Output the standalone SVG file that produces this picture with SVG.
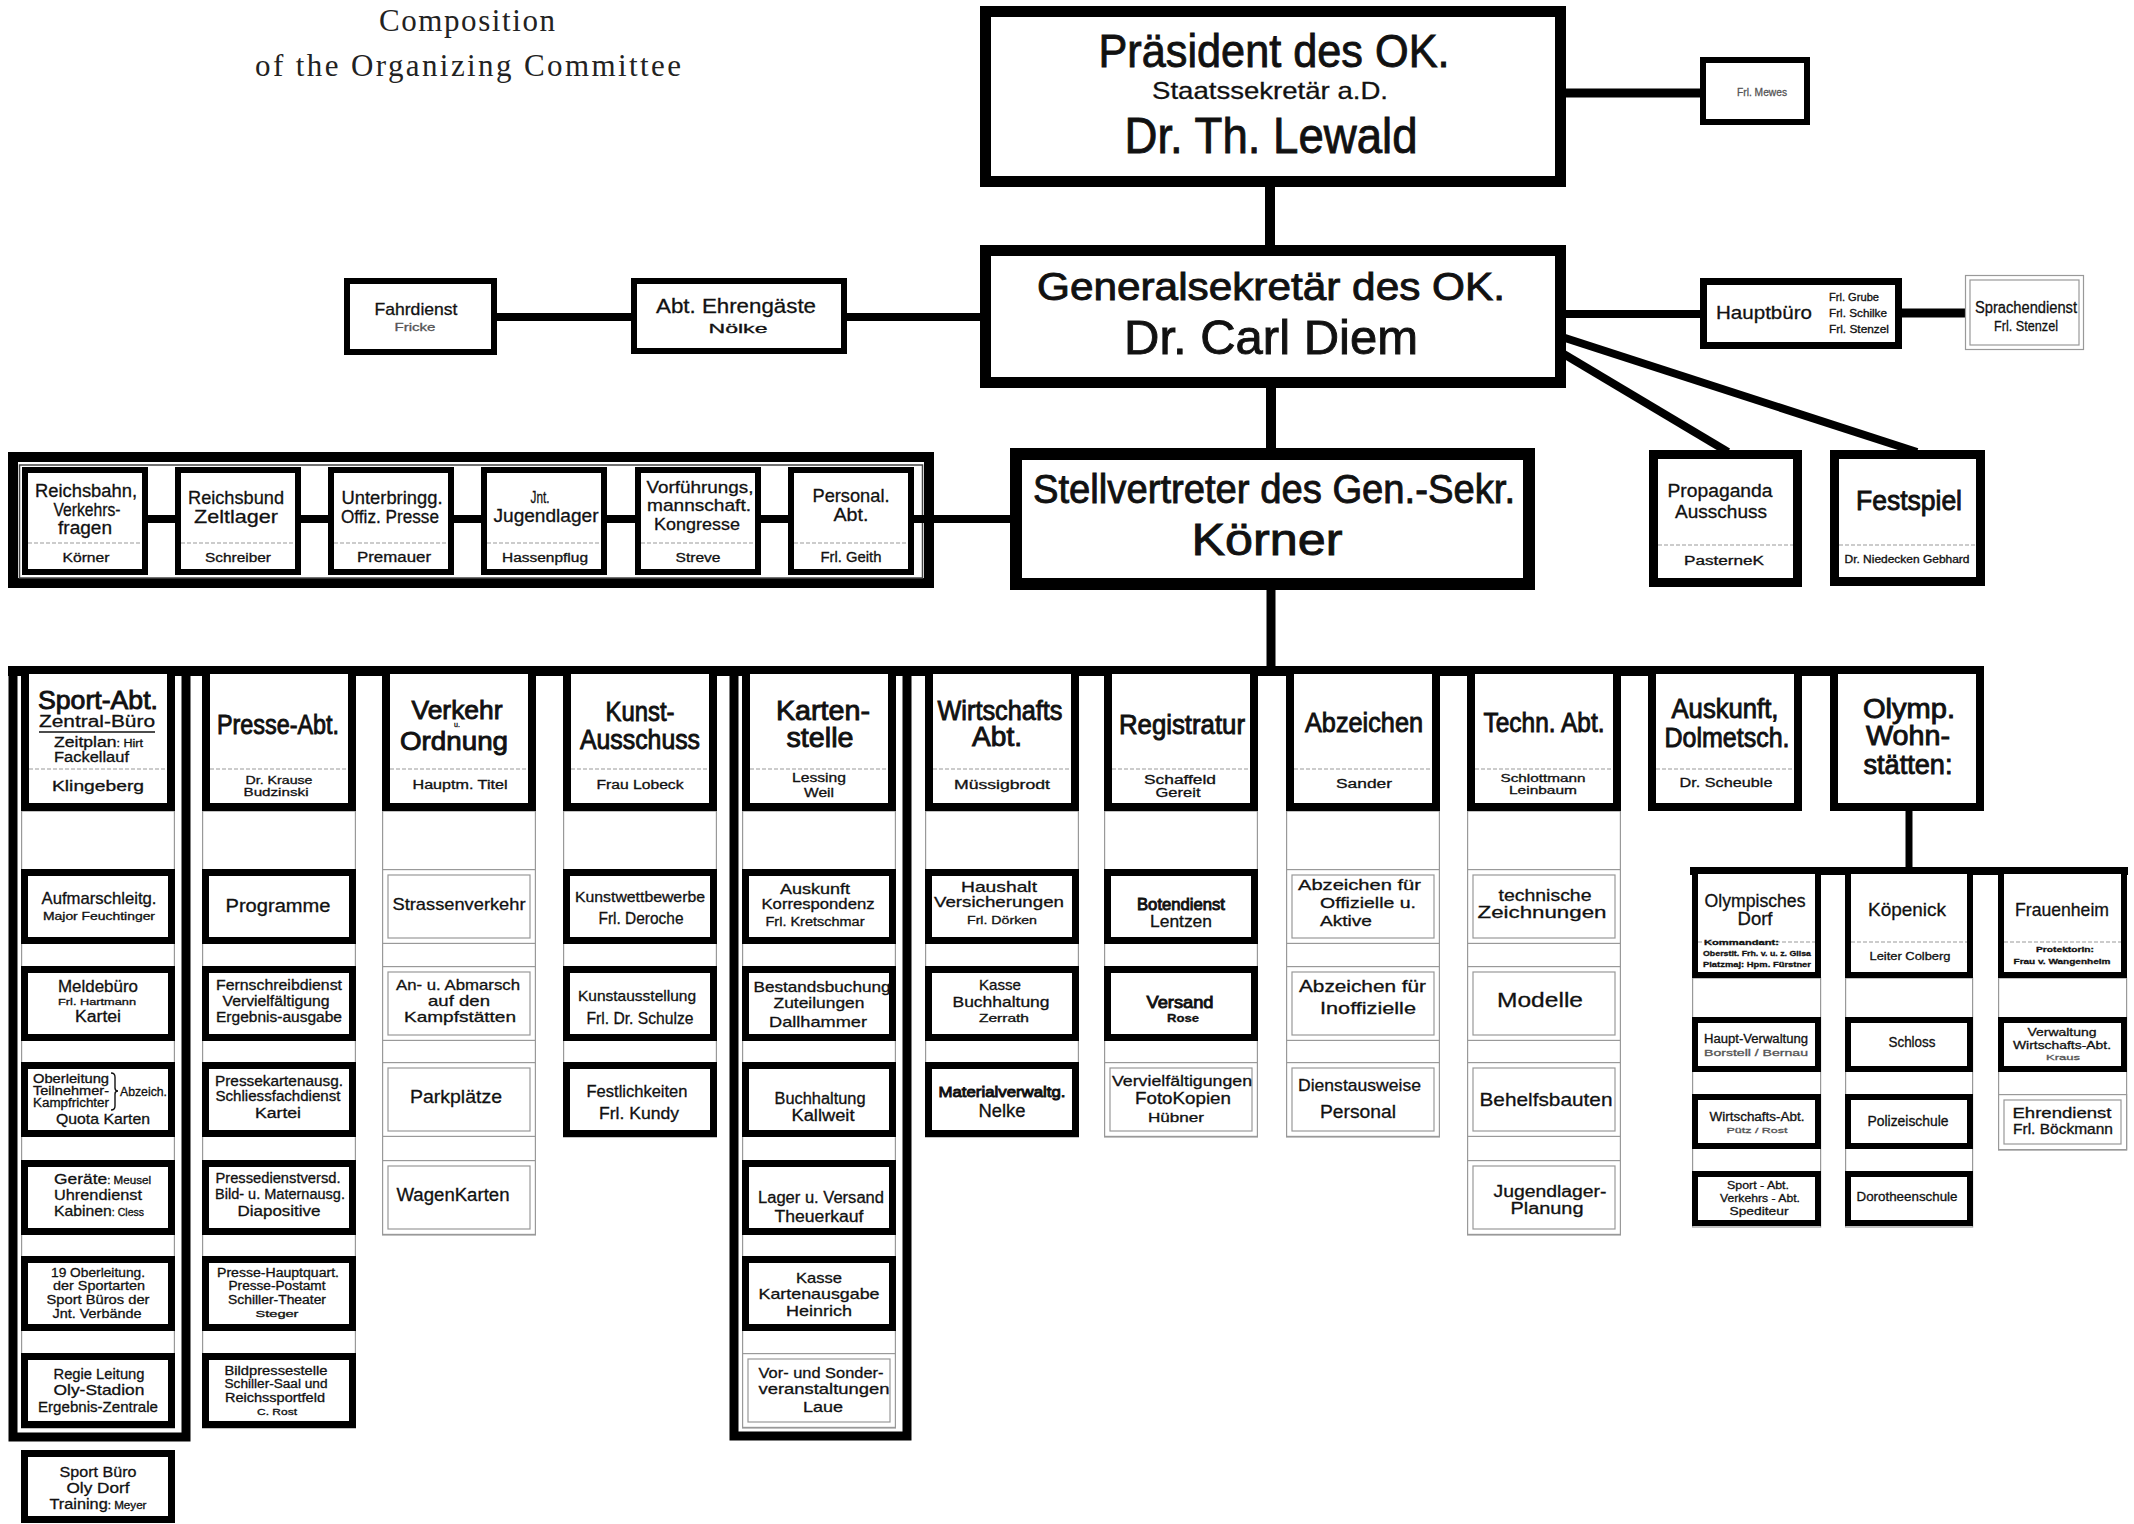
<svg xmlns="http://www.w3.org/2000/svg" width="2134" height="1524" viewBox="0 0 2134 1524">
<style>
.s{font-family:"Liberation Sans Narrow","Liberation Sans",Arial,sans-serif;text-anchor:middle;fill:#111;stroke:#111;stroke-width:0.3}
.b{stroke-width:0.9}
.a{text-anchor:start}
.g{fill:#555;stroke:#555}
.sr{font-family:"Liberation Serif","Times New Roman",serif;text-anchor:middle;fill:#222}
.bx{fill:#fff;stroke:#000}
.hd{fill:#fff;stroke:#000;stroke-width:8}
.rb{fill:#fff;stroke:#000;stroke-width:7}
.ob{fill:#fff;stroke:#000;stroke-width:6}
.th{fill:#fff;stroke:#999;stroke-width:1.2}
.ti{fill:none;stroke:#999;stroke-width:1.2}
.st{fill:none;stroke:#999;stroke-width:1.2}
.sp{stroke:#999;stroke-width:1.2;stroke-dasharray:4 2}
.cn{stroke:#000;fill:none}
.fr{stroke:#000;fill:none;stroke-width:9}
</style>
<rect width="2134" height="1524" fill="#fff"/>

<g id="title">
<text class="sr" x="467" y="31" font-size="31" textLength="176" lengthAdjust="spacing">Composition</text>
<text class="sr" x="468" y="76" font-size="31" textLength="426" lengthAdjust="spacing">of the Organizing Committee</text>
</g>

<g id="connectors">
<line class="cn" x1="1566" y1="93" x2="1700" y2="93" stroke-width="9"/>
<line class="cn" x1="1270" y1="187" x2="1270" y2="245" stroke-width="10"/>
<line class="cn" x1="497" y1="317" x2="631" y2="317" stroke-width="8"/>
<line class="cn" x1="847" y1="317" x2="980" y2="317" stroke-width="8"/>
<line class="cn" x1="1566" y1="314" x2="1700" y2="314" stroke-width="8"/>
<line class="cn" x1="1902" y1="313" x2="1965" y2="313" stroke-width="9"/>
<line class="cn" x1="1562" y1="353" x2="1728" y2="452" stroke-width="8"/>
<line class="cn" x1="1562" y1="337" x2="1917" y2="452" stroke-width="8"/>
<line class="cn" x1="1271" y1="388" x2="1271" y2="448" stroke-width="10"/>
<line class="cn" x1="1271" y1="590" x2="1271" y2="668" stroke-width="9"/>
<line class="cn" x1="914" y1="519" x2="1010" y2="519" stroke-width="8"/>
<rect x="8" y="666" width="1976" height="10" fill="#000"/>
<line class="cn" x1="1909" y1="811" x2="1909" y2="868" stroke-width="7"/>
<rect x="1690" y="867" width="438" height="8" fill="#000"/>
</g>

<g id="praesident">
<rect class="bx" x="985.5" y="11.5" width="575" height="170" stroke-width="11"/>
<text class="s b" x="1274" y="67" font-size="47" textLength="351" lengthAdjust="spacingAndGlyphs">Präsident des OK.</text>
<text class="s" x="1270" y="99" font-size="24" textLength="236" lengthAdjust="spacingAndGlyphs">Staatssekretär a.D.</text>
<text class="s b" x="1271" y="153" font-size="50" textLength="293" lengthAdjust="spacingAndGlyphs">Dr. Th. Lewald</text>
</g>
<g id="mewes">
<rect class="bx" x="1703" y="60" width="104" height="62" stroke-width="6"/>
<text class="s g" x="1762" y="96" font-size="11" textLength="50" lengthAdjust="spacingAndGlyphs">Frl. Mewes</text>
</g>

<g id="generalsekretaer">
<rect class="bx" x="985.5" y="250.5" width="575" height="132" stroke-width="11"/>
<text class="s b" x="1271" y="300" font-size="38" textLength="468" lengthAdjust="spacingAndGlyphs">Generalsekretär des OK.</text>
<text class="s b" x="1271" y="354" font-size="48" textLength="294" lengthAdjust="spacingAndGlyphs">Dr. Carl Diem</text>
</g>
<g id="fahrdienst">
<rect class="bx" x="347" y="281" width="147" height="71" stroke-width="6"/>
<text class="s" x="416" y="315" font-size="17" textLength="83" lengthAdjust="spacingAndGlyphs">Fahrdienst</text>
<text class="s g" x="415" y="331" font-size="11" textLength="41" lengthAdjust="spacingAndGlyphs">Fricke</text>
</g>
<g id="ehrengaeste">
<rect class="bx" x="634" y="281" width="210" height="70" stroke-width="6"/>
<text class="s" x="736" y="313" font-size="21" textLength="160" lengthAdjust="spacingAndGlyphs">Abt. Ehrengäste</text>
<text class="s" x="738" y="333" font-size="13" textLength="59" lengthAdjust="spacingAndGlyphs">Nölke</text>
</g>
<g id="hauptbuero">
<rect class="bx" x="1703.5" y="281.5" width="195" height="64" stroke-width="7"/>
<text class="s" x="1764" y="319" font-size="19" textLength="96" lengthAdjust="spacingAndGlyphs">Hauptbüro</text>
<text class="s a" x="1829" y="301" font-size="10" textLength="50" lengthAdjust="spacingAndGlyphs">Frl. Grube</text>
<text class="s a" x="1829" y="317" font-size="10" textLength="58" lengthAdjust="spacingAndGlyphs">Frl. Schilke</text>
<text class="s a" x="1829" y="333" font-size="10" textLength="60" lengthAdjust="spacingAndGlyphs">Frl. Stenzel</text>
</g>
<g id="sprachendienst">
<rect class="th" x="1965.5" y="275.5" width="118" height="74"/>
<rect class="ti" x="1970" y="280" width="109" height="65"/>
<text class="s" x="2026" y="313" font-size="16" textLength="102" lengthAdjust="spacingAndGlyphs">Sprachendienst</text>
<text class="s" x="2026" y="331" font-size="15" textLength="64" lengthAdjust="spacingAndGlyphs">Frl. Stenzel</text>
</g>

<g id="stellvertreter">
<rect class="bx" x="1016" y="454" width="513" height="130" stroke-width="12"/>
<text class="s b" x="1274" y="503" font-size="40" textLength="482" lengthAdjust="spacingAndGlyphs">Stellvertreter des Gen.-Sekr.</text>
<text class="s b" x="1267" y="555" font-size="44" textLength="151" lengthAdjust="spacingAndGlyphs">Körner</text>
</g>
<g id="propaganda">
<rect class="bx" x="1653.5" y="454.5" width="144" height="128" stroke-width="9"/>
<line class="sp" x1="1658" y1="545" x2="1793" y2="545"/>
<text class="s" x="1720" y="497" font-size="18" textLength="105" lengthAdjust="spacingAndGlyphs">Propaganda</text>
<text class="s" x="1721" y="518" font-size="18" textLength="92" lengthAdjust="spacingAndGlyphs">Ausschuss</text>
<text class="s" x="1724" y="565" font-size="12" textLength="80" lengthAdjust="spacingAndGlyphs">PasterneK</text>
</g>
<g id="festspiel">
<rect class="bx" x="1834.5" y="454.5" width="146" height="127" stroke-width="9"/>
<line class="sp" x1="1839" y1="545" x2="1976" y2="545"/>
<text class="s b" x="1909" y="510" font-size="28" textLength="106" lengthAdjust="spacingAndGlyphs">Festspiel</text>
<text class="s" x="1907" y="563" font-size="10" textLength="125" lengthAdjust="spacingAndGlyphs">Dr. Niedecken Gebhard</text>
</g>

<g id="stab">
<rect class="bx" x="13" y="457" width="916" height="126" stroke-width="10"/>
<rect fill="none" stroke="#444" stroke-width="1.5" x="19.5" y="465" width="903" height="113"/>
<line class="cn" x1="148" y1="519" x2="175" y2="519" stroke-width="8"/>
<line class="cn" x1="301" y1="519" x2="328" y2="519" stroke-width="8"/>
<line class="cn" x1="454" y1="519" x2="481" y2="519" stroke-width="8"/>
<line class="cn" x1="607" y1="519" x2="635" y2="519" stroke-width="8"/>
<line class="cn" x1="761" y1="519" x2="788" y2="519" stroke-width="8"/>
<line class="cn" x1="914" y1="519" x2="934" y2="519" stroke-width="8"/>
<g id="reichsbahn">
<rect class="ob" x="25" y="470" width="120" height="102"/>
<line class="sp" x1="28" y1="543" x2="142" y2="543"/>
<text class="s" x="86" y="497" font-size="18" textLength="102" lengthAdjust="spacingAndGlyphs">Reichsbahn,</text>
<text class="s" x="87" y="516" font-size="18" textLength="67" lengthAdjust="spacingAndGlyphs">Verkehrs-</text>
<text class="s" x="85" y="534" font-size="18" textLength="54" lengthAdjust="spacingAndGlyphs">fragen</text>
<text class="s" x="86" y="562" font-size="13" textLength="47" lengthAdjust="spacingAndGlyphs">Körner</text>
</g>
<g id="reichsbund">
<rect class="ob" x="178" y="470" width="120" height="102"/>
<line class="sp" x1="181" y1="543" x2="295" y2="543"/>
<text class="s" x="236" y="504" font-size="19" textLength="96" lengthAdjust="spacingAndGlyphs">Reichsbund</text>
<text class="s" x="236" y="523" font-size="19" textLength="84" lengthAdjust="spacingAndGlyphs">Zeltlager</text>
<text class="s" x="238" y="562" font-size="13" textLength="66" lengthAdjust="spacingAndGlyphs">Schreiber</text>
</g>
<g id="unterbringung">
<rect class="ob" x="331" y="470" width="120" height="102"/>
<line class="sp" x1="334" y1="543" x2="448" y2="543"/>
<text class="s" x="392" y="504" font-size="18" textLength="101" lengthAdjust="spacingAndGlyphs">Unterbringg.</text>
<text class="s" x="390" y="523" font-size="18" textLength="98" lengthAdjust="spacingAndGlyphs">Offiz. Presse</text>
<text class="s" x="394" y="562" font-size="14" textLength="74" lengthAdjust="spacingAndGlyphs">Premauer</text>
</g>
<g id="jugendlager">
<rect class="ob" x="484" y="470" width="120" height="102"/>
<line class="sp" x1="487" y1="543" x2="601" y2="543"/>
<text class="s" x="540" y="503" font-size="17" textLength="19" lengthAdjust="spacingAndGlyphs">Jnt.</text>
<text class="s" x="546" y="522" font-size="18" textLength="105" lengthAdjust="spacingAndGlyphs">Jugendlager</text>
<text class="s" x="545" y="562" font-size="12" textLength="86" lengthAdjust="spacingAndGlyphs">Hassenpflug</text>
</g>
<g id="vorfuehrung">
<rect class="ob" x="638" y="470" width="120" height="102"/>
<line class="sp" x1="641" y1="543" x2="755" y2="543"/>
<text class="s" x="700" y="493" font-size="17" textLength="107" lengthAdjust="spacingAndGlyphs">Vorführungs,</text>
<text class="s" x="699" y="511" font-size="17" textLength="104" lengthAdjust="spacingAndGlyphs">mannschaft.</text>
<text class="s" x="697" y="530" font-size="17" textLength="86" lengthAdjust="spacingAndGlyphs">Kongresse</text>
<text class="s" x="698" y="562" font-size="13" textLength="45" lengthAdjust="spacingAndGlyphs">Streve</text>
</g>
<g id="personal">
<rect class="ob" x="791" y="470" width="120" height="102"/>
<line class="sp" x1="794" y1="543" x2="908" y2="543"/>
<text class="s" x="851" y="502" font-size="19" textLength="77" lengthAdjust="spacingAndGlyphs">Personal.</text>
<text class="s" x="851" y="521" font-size="19" textLength="35" lengthAdjust="spacingAndGlyphs">Abt.</text>
<text class="s" x="851" y="562" font-size="14" textLength="61" lengthAdjust="spacingAndGlyphs">Frl. Geith</text>
</g>
</g>

<g id="sport">
<rect class="st" x="21.6" y="811" width="152.8" height="617"/>
<path class="fr" d="M13 671 V1437 H186 V671"/>
<rect class="hd" x="25" y="670" width="146" height="137"/>
<line class="sp" x1="29" y1="769" x2="167" y2="769"/>
<text class="s b" x="98" y="709" font-size="26" textLength="120" lengthAdjust="spacingAndGlyphs">Sport-Abt.</text>
<text class="s" x="97" y="727" font-size="16" textLength="116" lengthAdjust="spacingAndGlyphs">Zentral-Büro</text>
<line x1="39" y1="732" x2="155" y2="732" stroke="#111" stroke-width="1.5"/>
<text class="s a" x="54" y="747" font-size="14" textLength="89" lengthAdjust="spacingAndGlyphs">Zeitplan<tspan font-size="10">: Hirt</tspan></text>
<text class="s a" x="54" y="762" font-size="14" textLength="75" lengthAdjust="spacingAndGlyphs">Fackellauf</text>
<text class="s" x="98" y="791" font-size="14" textLength="92" lengthAdjust="spacingAndGlyphs">Klingeberg</text>
<rect class="rb" x="24.5" y="872.5" width="147" height="68"/>
<text class="s" x="99" y="904" font-size="17" textLength="115" lengthAdjust="spacingAndGlyphs">Aufmarschleitg.</text>
<text class="s" x="99" y="920" font-size="10" textLength="112" lengthAdjust="spacingAndGlyphs">Major Feuchtinger</text>
<rect class="rb" x="24.5" y="969.5" width="147" height="68"/>
<text class="s" x="98" y="992" font-size="16" textLength="80" lengthAdjust="spacingAndGlyphs">Meldebüro</text>
<text class="s" x="97" y="1005" font-size="9" textLength="78" lengthAdjust="spacingAndGlyphs">Frl. Hartmann</text>
<text class="s" x="98" y="1022" font-size="16" textLength="46" lengthAdjust="spacingAndGlyphs">Kartei</text>
<rect class="rb" x="24.5" y="1065.5" width="147" height="68"/>
<text class="s a" x="33" y="1083" font-size="12" textLength="76" lengthAdjust="spacingAndGlyphs">Oberleitung</text>
<text class="s a" x="33" y="1095" font-size="12" textLength="76" lengthAdjust="spacingAndGlyphs">Teilnehmer-</text>
<text class="s a" x="33" y="1107" font-size="12" textLength="76" lengthAdjust="spacingAndGlyphs">Kampfrichter</text>
<path d="M111 1073 Q115 1073 115 1077 V1088 Q115 1091 118 1091 Q115 1091 115 1094 V1106 Q115 1110 111 1110" fill="none" stroke="#111" stroke-width="1.4"/>
<text class="s a" x="120" y="1096" font-size="12" textLength="47" lengthAdjust="spacingAndGlyphs">Abzeich.</text>
<text class="s" x="103" y="1124" font-size="15" textLength="94" lengthAdjust="spacingAndGlyphs">Quota Karten</text>
<rect class="rb" x="24.5" y="1163.5" width="147" height="68"/>
<text class="s a" x="54" y="1184" font-size="15" textLength="97" lengthAdjust="spacingAndGlyphs">Geräte<tspan font-size="10">: Meusel</tspan></text>
<text class="s a" x="54" y="1200" font-size="15" textLength="88" lengthAdjust="spacingAndGlyphs">Uhrendienst</text>
<text class="s a" x="54" y="1216" font-size="15" textLength="90" lengthAdjust="spacingAndGlyphs">Kabinen<tspan font-size="10">: Cless</tspan></text>
<rect class="rb" x="24.5" y="1259.5" width="147" height="68"/>
<text class="s" x="98" y="1277" font-size="13" textLength="94" lengthAdjust="spacingAndGlyphs">19 Oberleitung.</text>
<text class="s" x="99" y="1290" font-size="13" textLength="92" lengthAdjust="spacingAndGlyphs">der Sportarten</text>
<text class="s" x="98" y="1304" font-size="13" textLength="103" lengthAdjust="spacingAndGlyphs">Sport Büros der</text>
<text class="s" x="97" y="1318" font-size="13" textLength="89" lengthAdjust="spacingAndGlyphs">Jnt. Verbände</text>
<rect class="rb" x="24.5" y="1356.5" width="147" height="68"/>
<text class="s" x="99" y="1379" font-size="15" textLength="91" lengthAdjust="spacingAndGlyphs">Regie Leitung</text>
<text class="s" x="99" y="1395" font-size="15" textLength="91" lengthAdjust="spacingAndGlyphs">Oly-Stadion</text>
<text class="s" x="98" y="1412" font-size="15" textLength="120" lengthAdjust="spacingAndGlyphs">Ergebnis-Zentrale</text>
</g>
<g id="sportbuero-olydorf">
<rect class="rb" x="24.5" y="1453.5" width="147" height="66"/>
<text class="s" x="98" y="1477" font-size="15" textLength="77" lengthAdjust="spacingAndGlyphs">Sport Büro</text>
<text class="s" x="98" y="1493" font-size="15" textLength="63" lengthAdjust="spacingAndGlyphs">Oly Dorf</text>
<text class="s" x="98" y="1509" font-size="14" textLength="97" lengthAdjust="spacingAndGlyphs">Training<tspan font-size="10">: Meyer</tspan></text>
</g>

<g id="presse">
<rect class="st" x="202.6" y="811" width="152.8" height="617"/>
<rect class="hd" x="206" y="670" width="146" height="137"/>
<line class="sp" x1="210" y1="769" x2="348" y2="769"/>
<text class="s b" x="278" y="734" font-size="27" textLength="122" lengthAdjust="spacingAndGlyphs">Presse-Abt.</text>
<text class="s" x="279" y="784" font-size="11" textLength="67" lengthAdjust="spacingAndGlyphs">Dr. Krause</text>
<text class="s" x="276" y="796" font-size="11" textLength="65" lengthAdjust="spacingAndGlyphs">Budzinski</text>
<rect class="rb" x="205.5" y="872.5" width="147" height="68"/>
<text class="s" x="278" y="912" font-size="18" textLength="105" lengthAdjust="spacingAndGlyphs">Programme</text>
<rect class="rb" x="205.5" y="969.5" width="147" height="68"/>
<text class="s" x="279" y="990" font-size="14" textLength="126" lengthAdjust="spacingAndGlyphs">Fernschreibdienst</text>
<text class="s" x="276" y="1006" font-size="14" textLength="107" lengthAdjust="spacingAndGlyphs">Vervielfältigung</text>
<text class="s" x="279" y="1022" font-size="14" textLength="126" lengthAdjust="spacingAndGlyphs">Ergebnis-ausgabe</text>
<rect class="rb" x="205.5" y="1065.5" width="147" height="68"/>
<text class="s" x="279" y="1086" font-size="14" textLength="128" lengthAdjust="spacingAndGlyphs">Pressekartenausg.</text>
<text class="s" x="278" y="1101" font-size="14" textLength="125" lengthAdjust="spacingAndGlyphs">Schliessfachdienst</text>
<text class="s" x="278" y="1118" font-size="14" textLength="46" lengthAdjust="spacingAndGlyphs">Kartei</text>
<rect class="rb" x="205.5" y="1163.5" width="147" height="68"/>
<text class="s" x="278" y="1183" font-size="14" textLength="125" lengthAdjust="spacingAndGlyphs">Pressedienstversd.</text>
<text class="s" x="280" y="1199" font-size="14" textLength="130" lengthAdjust="spacingAndGlyphs">Bild- u. Maternausg.</text>
<text class="s" x="279" y="1216" font-size="14" textLength="83" lengthAdjust="spacingAndGlyphs">Diapositive</text>
<rect class="rb" x="205.5" y="1259.5" width="147" height="68"/>
<text class="s" x="278" y="1277" font-size="12" textLength="122" lengthAdjust="spacingAndGlyphs">Presse-Hauptquart.</text>
<text class="s" x="277" y="1290" font-size="12" textLength="97" lengthAdjust="spacingAndGlyphs">Presse-Postamt</text>
<text class="s" x="277" y="1304" font-size="12" textLength="98" lengthAdjust="spacingAndGlyphs">Schiller-Theater</text>
<text class="s" x="277" y="1317" font-size="9" textLength="43" lengthAdjust="spacingAndGlyphs">Steger</text>
<rect class="rb" x="205.5" y="1356.5" width="147" height="68"/>
<text class="s" x="276" y="1375" font-size="12" textLength="103" lengthAdjust="spacingAndGlyphs">Bildpressestelle</text>
<text class="s" x="276" y="1388" font-size="12" textLength="103" lengthAdjust="spacingAndGlyphs">Schiller-Saal und</text>
<text class="s" x="275" y="1402" font-size="12" textLength="100" lengthAdjust="spacingAndGlyphs">Reichssportfeld</text>
<text class="s" x="277" y="1415" font-size="9" textLength="40" lengthAdjust="spacingAndGlyphs">C. Rost</text>
</g>

<g id="verkehr">
<rect class="st" x="382.6" y="811" width="152.8" height="424"/>
<rect class="hd" x="386" y="670" width="146" height="137"/>
<line class="sp" x1="390" y1="769" x2="528" y2="769"/>
<text class="s b" x="457" y="719" font-size="26" textLength="91" lengthAdjust="spacingAndGlyphs">Verkehr</text>
<text class="s" x="457" y="727" font-size="7">u.</text>
<text class="s b" x="454" y="750" font-size="26" textLength="108" lengthAdjust="spacingAndGlyphs">Ordnung</text>
<text class="s" x="460" y="789" font-size="12" textLength="95" lengthAdjust="spacingAndGlyphs">Hauptm. Titel</text>
<rect class="th" x="382.6" y="869.6" width="152.8" height="73.8"/><rect class="ti" x="388" y="875" width="142" height="63"/>
<text class="s" x="459" y="910" font-size="17" textLength="133" lengthAdjust="spacingAndGlyphs">Strassenverkehr</text>
<rect class="th" x="382.6" y="966.6" width="152.8" height="73.8"/><rect class="ti" x="388" y="972" width="142" height="63"/>
<text class="s" x="458" y="990" font-size="15" textLength="124" lengthAdjust="spacingAndGlyphs">An- u. Abmarsch</text>
<text class="s" x="459" y="1006" font-size="15" textLength="62" lengthAdjust="spacingAndGlyphs">auf den</text>
<text class="s" x="460" y="1022" font-size="15" textLength="112" lengthAdjust="spacingAndGlyphs">Kampfstätten</text>
<rect class="th" x="382.6" y="1062.6" width="152.8" height="73.8"/><rect class="ti" x="388" y="1068" width="142" height="63"/>
<text class="s" x="456" y="1103" font-size="19" textLength="92" lengthAdjust="spacingAndGlyphs">Parkplätze</text>
<rect class="th" x="382.6" y="1160.6" width="152.8" height="73.8"/><rect class="ti" x="388" y="1166" width="142" height="63"/>
<text class="s" x="453" y="1201" font-size="18" textLength="113" lengthAdjust="spacingAndGlyphs">WagenKarten</text>
</g>

<g id="kunst">
<rect class="st" x="563.6" y="811" width="152.8" height="326"/>
<rect class="hd" x="567" y="670" width="146" height="137"/>
<line class="sp" x1="571" y1="769" x2="709" y2="769"/>
<text class="s b" x="640" y="721" font-size="27" textLength="69" lengthAdjust="spacingAndGlyphs">Kunst-</text>
<text class="s b" x="640" y="749" font-size="27" textLength="120" lengthAdjust="spacingAndGlyphs">Ausschuss</text>
<text class="s" x="640" y="789" font-size="12" textLength="87" lengthAdjust="spacingAndGlyphs">Frau Lobeck</text>
<rect class="rb" x="566.5" y="872.5" width="147" height="68"/>
<text class="s" x="640" y="902" font-size="15" textLength="130" lengthAdjust="spacingAndGlyphs">Kunstwettbewerbe</text>
<text class="s" x="641" y="924" font-size="17" textLength="85" lengthAdjust="spacingAndGlyphs">Frl. Deroche</text>
<rect class="rb" x="566.5" y="969.5" width="147" height="68"/>
<text class="s" x="637" y="1001" font-size="15" textLength="118" lengthAdjust="spacingAndGlyphs">Kunstausstellung</text>
<text class="s" x="640" y="1024" font-size="17" textLength="107" lengthAdjust="spacingAndGlyphs">Frl. Dr. Schulze</text>
<rect class="rb" x="566.5" y="1065.5" width="147" height="68"/>
<text class="s" x="637" y="1097" font-size="16" textLength="101" lengthAdjust="spacingAndGlyphs">Festlichkeiten</text>
<text class="s" x="639" y="1119" font-size="16" textLength="80" lengthAdjust="spacingAndGlyphs">Frl. Kundy</text>
</g>

<g id="kartenstelle">
<rect class="st" x="742.6" y="811" width="152.8" height="617"/>
<path class="fr" d="M734 671 V1436 H907 V671"/>
<rect class="hd" x="746" y="670" width="146" height="137"/>
<line class="sp" x1="750" y1="769" x2="888" y2="769"/>
<text class="s b" x="823" y="720" font-size="27" textLength="94" lengthAdjust="spacingAndGlyphs">Karten-</text>
<text class="s b" x="820" y="747" font-size="27" textLength="67" lengthAdjust="spacingAndGlyphs">stelle</text>
<text class="s" x="819" y="782" font-size="13" textLength="54" lengthAdjust="spacingAndGlyphs">Lessing</text>
<text class="s" x="819" y="797" font-size="13" textLength="30" lengthAdjust="spacingAndGlyphs">Weil</text>
<rect class="rb" x="745.5" y="872.5" width="147" height="68"/>
<text class="s" x="815" y="894" font-size="14" textLength="70" lengthAdjust="spacingAndGlyphs">Auskunft</text>
<text class="s" x="818" y="909" font-size="14" textLength="113" lengthAdjust="spacingAndGlyphs">Korrespondenz</text>
<text class="s" x="815" y="926" font-size="12" textLength="99" lengthAdjust="spacingAndGlyphs">Frl. Kretschmar</text>
<rect class="rb" x="745.5" y="969.5" width="147" height="68"/>
<text class="s" x="822" y="992" font-size="15" textLength="137" lengthAdjust="spacingAndGlyphs">Bestandsbuchung</text>
<text class="s" x="819" y="1008" font-size="15" textLength="91" lengthAdjust="spacingAndGlyphs">Zuteilungen</text>
<text class="s" x="818" y="1027" font-size="15" textLength="98" lengthAdjust="spacingAndGlyphs">Dallhammer</text>
<rect class="rb" x="745.5" y="1065.5" width="147" height="68"/>
<text class="s" x="820" y="1104" font-size="16" textLength="91" lengthAdjust="spacingAndGlyphs">Buchhaltung</text>
<text class="s" x="823" y="1121" font-size="16" textLength="63" lengthAdjust="spacingAndGlyphs">Kallweit</text>
<rect class="rb" x="745.5" y="1163.5" width="147" height="68"/>
<text class="s" x="821" y="1203" font-size="16" textLength="126" lengthAdjust="spacingAndGlyphs">Lager u. Versand</text>
<text class="s" x="819" y="1222" font-size="16" textLength="89" lengthAdjust="spacingAndGlyphs">Theuerkauf</text>
<rect class="rb" x="745.5" y="1259.5" width="147" height="68"/>
<text class="s" x="819" y="1283" font-size="15" textLength="46" lengthAdjust="spacingAndGlyphs">Kasse</text>
<text class="s" x="819" y="1299" font-size="15" textLength="121" lengthAdjust="spacingAndGlyphs">Kartenausgabe</text>
<text class="s" x="819" y="1316" font-size="15" textLength="66" lengthAdjust="spacingAndGlyphs">Heinrich</text>
<rect class="th" x="742.6" y="1353.6" width="152.8" height="73.8"/><rect class="ti" x="748" y="1359" width="142" height="63"/>
<text class="s" x="821" y="1378" font-size="15" textLength="125" lengthAdjust="spacingAndGlyphs">Vor- und Sonder-</text>
<text class="s" x="824" y="1394" font-size="15" textLength="131" lengthAdjust="spacingAndGlyphs">veranstaltungen</text>
<text class="s" x="823" y="1412" font-size="15" textLength="40" lengthAdjust="spacingAndGlyphs">Laue</text>
</g>

<g id="wirtschaft">
<rect class="st" x="925.6" y="811" width="152.8" height="326"/>
<rect class="hd" x="929" y="670" width="146" height="137"/>
<line class="sp" x1="933" y1="769" x2="1071" y2="769"/>
<text class="s b" x="1000" y="720" font-size="27" textLength="125" lengthAdjust="spacingAndGlyphs">Wirtschafts</text>
<text class="s b" x="997" y="746" font-size="27" textLength="50" lengthAdjust="spacingAndGlyphs">Abt.</text>
<text class="s" x="1002" y="789" font-size="12" textLength="96" lengthAdjust="spacingAndGlyphs">Müssigbrodt</text>
<rect class="rb" x="928.5" y="872.5" width="147" height="68"/>
<text class="s" x="999" y="892" font-size="15" textLength="76" lengthAdjust="spacingAndGlyphs">Haushalt</text>
<text class="s" x="999" y="907" font-size="15" textLength="130" lengthAdjust="spacingAndGlyphs">Versicherungen</text>
<text class="s" x="1002" y="924" font-size="11" textLength="70" lengthAdjust="spacingAndGlyphs">Frl. Dörken</text>
<rect class="rb" x="928.5" y="969.5" width="147" height="68"/>
<text class="s" x="1000" y="990" font-size="15" textLength="42" lengthAdjust="spacingAndGlyphs">Kasse</text>
<text class="s" x="1001" y="1007" font-size="15" textLength="97" lengthAdjust="spacingAndGlyphs">Buchhaltung</text>
<text class="s" x="1004" y="1022" font-size="10" textLength="50" lengthAdjust="spacingAndGlyphs">Zerrath</text>
<rect class="rb" x="928.5" y="1065.5" width="147" height="68"/>
<text class="s b" x="1002" y="1097" font-size="15" textLength="127" lengthAdjust="spacingAndGlyphs">Materialverwaltg.</text>
<text class="s" x="1002" y="1117" font-size="18" textLength="47" lengthAdjust="spacingAndGlyphs">Nelke</text>
</g>

<g id="registratur">
<rect class="st" x="1104.6" y="811" width="152.8" height="326"/>
<rect class="hd" x="1108" y="670" width="146" height="137"/>
<line class="sp" x1="1112" y1="769" x2="1250" y2="769"/>
<text class="s b" x="1182" y="734" font-size="27" textLength="126" lengthAdjust="spacingAndGlyphs">Registratur</text>
<text class="s" x="1180" y="784" font-size="13" textLength="72" lengthAdjust="spacingAndGlyphs">Schaffeld</text>
<text class="s" x="1178" y="797" font-size="13" textLength="45" lengthAdjust="spacingAndGlyphs">Gereit</text>
<rect class="rb" x="1107.5" y="872.5" width="147" height="68"/>
<text class="s b" x="1181" y="910" font-size="16" textLength="88" lengthAdjust="spacingAndGlyphs">Botendienst</text>
<text class="s" x="1181" y="927" font-size="16" textLength="62" lengthAdjust="spacingAndGlyphs">Lentzen</text>
<rect class="rb" x="1107.5" y="969.5" width="147" height="68"/>
<text class="s b" x="1180" y="1008" font-size="17" textLength="67" lengthAdjust="spacingAndGlyphs">Versand</text>
<text class="s" x="1183" y="1022" font-size="11" font-weight="bold" textLength="32" lengthAdjust="spacingAndGlyphs">Rose</text>
<rect class="th" x="1104.6" y="1062.6" width="152.8" height="73.8"/><rect class="ti" x="1110" y="1068" width="142" height="63"/>
<text class="s" x="1182" y="1086" font-size="15" textLength="140" lengthAdjust="spacingAndGlyphs">Vervielfältigungen</text>
<text class="s" x="1183" y="1104" font-size="16" textLength="96" lengthAdjust="spacingAndGlyphs">FotoKopien</text>
<text class="s" x="1176" y="1122" font-size="12" textLength="56" lengthAdjust="spacingAndGlyphs">Hübner</text>
</g>

<g id="abzeichen">
<rect class="st" x="1286.6" y="811" width="152.8" height="326"/>
<rect class="hd" x="1290" y="670" width="146" height="137"/>
<line class="sp" x1="1294" y1="769" x2="1432" y2="769"/>
<text class="s b" x="1364" y="732" font-size="27" textLength="118" lengthAdjust="spacingAndGlyphs">Abzeichen</text>
<text class="s" x="1364" y="788" font-size="12" textLength="56" lengthAdjust="spacingAndGlyphs">Sander</text>
<rect class="th" x="1286.6" y="869.6" width="152.8" height="73.8"/><rect class="ti" x="1292" y="875" width="142" height="63"/>
<text class="s a" x="1298" y="890" font-size="15" textLength="123" lengthAdjust="spacingAndGlyphs">Abzeichen für</text>
<text class="s a" x="1320" y="908" font-size="15" textLength="96" lengthAdjust="spacingAndGlyphs">Offizielle u.</text>
<text class="s a" x="1320" y="926" font-size="15" textLength="52" lengthAdjust="spacingAndGlyphs">Aktive</text>
<rect class="th" x="1286.6" y="966.6" width="152.8" height="73.8"/><rect class="ti" x="1292" y="972" width="142" height="63"/>
<text class="s a" x="1299" y="992" font-size="16" textLength="127" lengthAdjust="spacingAndGlyphs">Abzeichen für</text>
<text class="s a" x="1320" y="1014" font-size="17" textLength="96" lengthAdjust="spacingAndGlyphs">Inoffizielle</text>
<rect class="th" x="1286.6" y="1062.6" width="152.8" height="73.8"/><rect class="ti" x="1292" y="1068" width="142" height="63"/>
<text class="s a" x="1298" y="1091" font-size="17" textLength="123" lengthAdjust="spacingAndGlyphs">Dienstausweise</text>
<text class="s a" x="1320" y="1118" font-size="18" textLength="76" lengthAdjust="spacingAndGlyphs">Personal</text>
</g>

<g id="technik">
<rect class="st" x="1467.6" y="811" width="152.8" height="424"/>
<rect class="hd" x="1471" y="670" width="146" height="137"/>
<line class="sp" x1="1475" y1="769" x2="1613" y2="769"/>
<text class="s b" x="1544" y="732" font-size="27" textLength="121" lengthAdjust="spacingAndGlyphs">Techn. Abt.</text>
<text class="s" x="1543" y="782" font-size="11" textLength="85" lengthAdjust="spacingAndGlyphs">Schlottmann</text>
<text class="s" x="1543" y="794" font-size="11" textLength="68" lengthAdjust="spacingAndGlyphs">Leinbaum</text>
<rect class="th" x="1467.6" y="869.6" width="152.8" height="73.8"/><rect class="ti" x="1473" y="875" width="142" height="63"/>
<text class="s" x="1545" y="901" font-size="16" textLength="93" lengthAdjust="spacingAndGlyphs">technische</text>
<text class="s" x="1542" y="918" font-size="17" textLength="129" lengthAdjust="spacingAndGlyphs">Zeichnungen</text>
<rect class="th" x="1467.6" y="966.6" width="152.8" height="73.8"/><rect class="ti" x="1473" y="972" width="142" height="63"/>
<text class="s" x="1540" y="1007" font-size="20" textLength="86" lengthAdjust="spacingAndGlyphs">Modelle</text>
<rect class="th" x="1467.6" y="1062.6" width="152.8" height="73.8"/><rect class="ti" x="1473" y="1068" width="142" height="63"/>
<text class="s" x="1546" y="1106" font-size="19" textLength="133" lengthAdjust="spacingAndGlyphs">Behelfsbauten</text>
<rect class="th" x="1467.6" y="1160.6" width="152.8" height="73.8"/><rect class="ti" x="1473" y="1166" width="142" height="63"/>
<text class="s" x="1550" y="1197" font-size="16" textLength="113" lengthAdjust="spacingAndGlyphs">Jugendlager-</text>
<text class="s" x="1547" y="1214" font-size="16" textLength="73" lengthAdjust="spacingAndGlyphs">Planung</text>
</g>

<g id="auskunft">
<rect class="hd" x="1652" y="670" width="146" height="137"/>
<line class="sp" x1="1656" y1="769" x2="1794" y2="769"/>
<text class="s b" x="1725" y="718" font-size="27" textLength="107" lengthAdjust="spacingAndGlyphs">Auskunft,</text>
<text class="s b" x="1727" y="747" font-size="27" textLength="125" lengthAdjust="spacingAndGlyphs">Dolmetsch.</text>
<text class="s" x="1726" y="787" font-size="13" textLength="93" lengthAdjust="spacingAndGlyphs">Dr. Scheuble</text>
</g>

<g id="olymp-wohnstaetten">
<rect class="hd" x="1834" y="670" width="146" height="137"/>
<text class="s b" x="1909" y="718" font-size="27" textLength="92" lengthAdjust="spacingAndGlyphs">Olymp.</text>
<text class="s b" x="1908" y="745" font-size="27" textLength="84" lengthAdjust="spacingAndGlyphs">Wohn-</text>
<text class="s b" x="1908" y="774" font-size="27" textLength="89" lengthAdjust="spacingAndGlyphs">stätten:</text>
</g>

<g id="olympisches-dorf">
<rect class="st" x="1692.6" y="978" width="128" height="249"/>
<rect class="ob" x="1695" y="871" width="123" height="104"/>
<line class="sp" x1="1698" y1="942" x2="1815" y2="942"/>
<text class="s" x="1755" y="907" font-size="18" textLength="101" lengthAdjust="spacingAndGlyphs">Olympisches</text>
<text class="s" x="1755" y="925" font-size="18" textLength="35" lengthAdjust="spacingAndGlyphs">Dorf</text>
<text class="s a" x="1704" y="945" font-size="8" font-weight="bold" textLength="75" lengthAdjust="spacingAndGlyphs">Kommandant:</text>
<text class="s a" x="1703" y="956" font-size="8" font-weight="bold" textLength="108" lengthAdjust="spacingAndGlyphs">Oberstlt. Frh. v. u. z. Gilsa</text>
<text class="s a" x="1703" y="967" font-size="8" font-weight="bold" textLength="108" lengthAdjust="spacingAndGlyphs">Platzmaj: Hpm. Fürstner</text>
<rect class="ob" x="1695" y="1020" width="123" height="49"/>
<text class="s" x="1756" y="1043" font-size="12" textLength="104" lengthAdjust="spacingAndGlyphs">Haupt-Verwaltung</text>
<text class="s g" x="1756" y="1056" font-size="9" textLength="104" lengthAdjust="spacingAndGlyphs">Borstell / Bernau</text>
<rect class="ob" x="1695" y="1097" width="123" height="49"/>
<text class="s" x="1757" y="1121" font-size="12" textLength="95" lengthAdjust="spacingAndGlyphs">Wirtschafts-Abt.</text>
<text class="s g" x="1757" y="1133" font-size="8" textLength="61" lengthAdjust="spacingAndGlyphs">Pütz / Rost</text>
<rect class="ob" x="1695" y="1174" width="123" height="49"/>
<text class="s" x="1758" y="1189" font-size="11" textLength="62" lengthAdjust="spacingAndGlyphs">Sport - Abt.</text>
<text class="s" x="1760" y="1202" font-size="11" textLength="80" lengthAdjust="spacingAndGlyphs">Verkehrs - Abt.</text>
<text class="s" x="1759" y="1215" font-size="11" textLength="59" lengthAdjust="spacingAndGlyphs">Spediteur</text>
</g>

<g id="koepenick">
<rect class="st" x="1845.6" y="978" width="127" height="249"/>
<rect class="ob" x="1848" y="871" width="122" height="104"/>
<line class="sp" x1="1851" y1="942" x2="1967" y2="942"/>
<text class="s" x="1907" y="916" font-size="19" textLength="78" lengthAdjust="spacingAndGlyphs">Köpenick</text>
<text class="s" x="1910" y="960" font-size="11" textLength="81" lengthAdjust="spacingAndGlyphs">Leiter Colberg</text>
<rect class="ob" x="1848" y="1020" width="122" height="49"/>
<text class="s" x="1912" y="1047" font-size="14" textLength="47" lengthAdjust="spacingAndGlyphs">Schloss</text>
<rect class="ob" x="1848" y="1097" width="122" height="49"/>
<text class="s" x="1908" y="1126" font-size="14" textLength="81" lengthAdjust="spacingAndGlyphs">Polizeischule</text>
<rect class="ob" x="1848" y="1174" width="122" height="49"/>
<text class="s" x="1907" y="1201" font-size="13" textLength="101" lengthAdjust="spacingAndGlyphs">Dorotheenschule</text>
</g>

<g id="frauenheim">
<rect class="st" x="1998.6" y="978" width="128" height="172"/>
<rect class="ob" x="2001" y="871" width="123" height="104"/>
<line class="sp" x1="2004" y1="942" x2="2121" y2="942"/>
<text class="s" x="2062" y="916" font-size="19" textLength="94" lengthAdjust="spacingAndGlyphs">Frauenheim</text>
<text class="s" x="2065" y="952" font-size="8" font-weight="bold" textLength="58" lengthAdjust="spacingAndGlyphs">Protektorin:</text>
<text class="s" x="2062" y="964" font-size="8" font-weight="bold" textLength="97" lengthAdjust="spacingAndGlyphs">Frau v. Wangenheim</text>
<rect class="ob" x="2001" y="1020" width="123" height="49"/>
<text class="s" x="2062" y="1036" font-size="11" textLength="69" lengthAdjust="spacingAndGlyphs">Verwaltung</text>
<text class="s" x="2062" y="1049" font-size="11" textLength="98" lengthAdjust="spacingAndGlyphs">Wirtschafts-Abt.</text>
<text class="s g" x="2063" y="1060" font-size="8" textLength="34" lengthAdjust="spacingAndGlyphs">Kraus</text>
<rect class="th" x="1998.6" y="1094.6" width="128" height="55"/><rect class="ti" x="2004" y="1100" width="117" height="44"/>
<text class="s" x="2062" y="1118" font-size="14" textLength="99" lengthAdjust="spacingAndGlyphs">Ehrendienst</text>
<text class="s" x="2063" y="1134" font-size="14" textLength="100" lengthAdjust="spacingAndGlyphs">Frl. Böckmann</text>
</g>
</svg>
